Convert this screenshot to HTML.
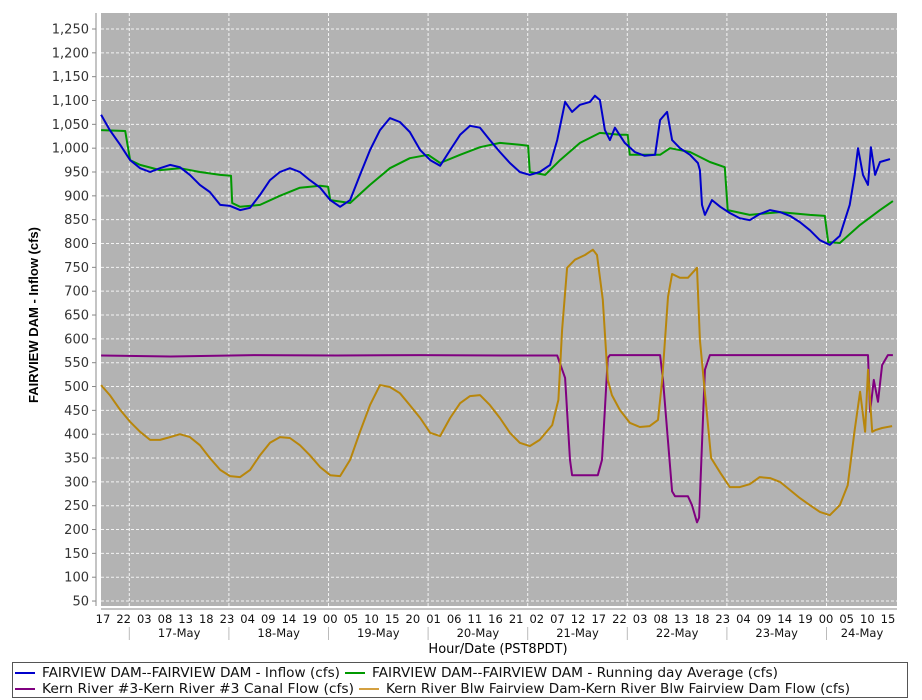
<!DOCTYPE html>
<html><head><meta charset="utf-8"><style>
html,body{margin:0;padding:0;background:#fff;}
svg{display:block;font-family:"DejaVu Sans","Liberation Sans",sans-serif;}
</style></head><body>
<svg id="chart" width="922" height="700" viewBox="0 0 922 700"></svg>
<script>
// ---- data (hours since 17-May 00:00, values cfs) ----
const yTicks = [50,100,150,200,250,300,350,400,450,500,550,600,650,700,750,800,850,900,950,1000,1050,1100,1150,1200,1250];
const hourLabels = ["17","22","03","08","13","18","23","04","09","14","19","00","05","10","15","20","01","06","11","16","21","02","07","12","17","22","03","08","13","18","23","04","09","14","19","00","05","10","15"];
const dayLabels = ["17-May","18-May","19-May","20-May","21-May","22-May","23-May","24-May"];

const inflowT = [-6.8,-4.7,-2.2,0.2,2.6,5.0,7.4,9.8,12.2,14.6,17.0,19.4,21.9,24.3,26.7,29.1,31.5,33.9,36.3,38.7,41.1,43.5,46.0,48.4,50.8,53.2,55.6,58.0,60.4,62.8,65.2,67.6,70.1,72.5,74.9,77.3,79.7,82.1,84.5,86.9,89.3,91.7,94.1,96.5,98.9,101.4,103.1,105.0,106.7,108.6,111.0,112.2,113.4,114.6,115.8,117.0,119.4,121.8,124.2,126.7,127.9,129.6,130.8,132.7,135.1,137.0,137.5,138.0,138.7,140.4,142.4,144.7,147.1,149.5,151.9,154.4,156.8,159.2,161.6,164.0,166.4,168.8,171.2,173.6,174.8,175.6,176.8,178.0,178.7,179.7,180.9,183.3];
const inflowV = [1070,1038,1007,975,958,950,958,965,960,944,923,908,881,879,870,875,902,933,950,958,950,933,917,891,877,891,944,996,1038,1063,1055,1034,996,975,963,996,1028,1047,1043,1017,992,969,950,944,950,965,1017,1097,1076,1091,1097,1110,1101,1038,1017,1043,1011,992,984,986,1059,1076,1017,1000,986,969,954,881,860,891,877,864,853,849,862,870,866,858,845,828,807,797,816,881,944,1000,944,923,1002,944,971,977];

const avgT = [-6.8,-1.0,0.2,2.6,7.4,12.2,17.0,21.9,24.5,24.8,26.7,31.5,36.3,41.1,46.0,47.9,48.4,53.2,58.0,62.8,67.6,72.0,74.9,79.7,84.5,89.3,94.1,96.1,96.5,100.2,103.8,108.6,113.4,118.2,120.1,120.6,127.9,130.3,135.1,139.9,143.5,144.2,149.5,156.8,164.0,167.6,168.4,171.2,176.1,180.9,184.0];
const avgV = [1038,1036,975,965,954,958,950,944,942,885,877,881,900,917,921,919,891,885,923,958,979,986,969,986,1002,1011,1007,1005,950,944,975,1011,1032,1028,1028,986,986,1000,992,971,960,870,860,866,860,858,803,801,839,870,889];

const canalT = [-6.8,10,30,50,70,90,103.1,105.0,106.2,106.7,112.9,113.9,115.3,115.8,127.9,128.6,130.8,131.5,134.6,135.6,136.8,137.3,138.7,139.9,160,178.0,178.5,179.4,180.4,181.4,182.8,184.0];
const canalV = [565,563,566,565,566,565,565,518,346,314,314,346,560,566,566,514,280,270,270,251,215,225,535,566,566,566,447,514,468,545,566,566];

const blwT = [-6.8,-4.7,-2.2,0.2,2.6,5.0,7.4,9.8,12.2,14.6,17.0,19.4,21.9,24.3,26.7,29.1,31.5,33.9,36.3,38.7,41.1,43.5,46.0,48.4,50.8,53.2,55.6,58.0,60.4,62.8,65.2,67.6,70.1,72.5,74.9,77.3,79.7,82.1,84.5,86.9,89.3,91.7,94.1,96.5,98.9,101.9,103.4,104.3,105.5,107.4,109.8,111.7,112.7,114.1,115.3,116.3,118.2,120.6,123.0,125.4,127.4,128.4,129.8,130.8,132.7,134.6,136.8,137.5,140.2,142.4,144.7,147.1,149.5,151.9,154.4,156.8,159.2,161.6,164.0,166.4,168.8,171.2,173.1,174.8,176.1,177.3,178.0,179.0,179.9,181.4,183.8];
const blwV = [503,482,451,426,405,388,388,394,400,394,377,350,325,312,310,325,356,382,394,392,377,356,331,314,312,346,405,461,503,499,486,461,434,403,396,434,465,480,482,461,434,403,382,375,388,419,472,619,749,766,776,787,776,682,514,482,451,424,415,417,430,514,688,736,728,728,749,598,350,319,289,289,295,310,308,300,283,266,251,237,230,251,293,409,489,405,535,405,409,413,417];

// ---- layout ----
const svg = document.getElementById('chart');
const NS = 'http://www.w3.org/2000/svg';
const PL = 101, PR = 897, PT = 13, PB = 606;
const X0 = 129.3, XK = 4.15;
const xs = h => X0 + h * XK;
const ys = v => 29 + (1250 - v) * 0.4767;

function mk(tag, attrs, parent) {
  const e = document.createElementNS(NS, tag);
  for (const k in attrs) e.setAttribute(k, attrs[k]);
  (parent || svg).appendChild(e);
  return e;
}

const bg = mk('rect', {x: PL, y: PT, width: PR - PL, height: PB - PT, fill: '#b3b3b3'});



const grid = mk('g', {stroke: '#ffffff', 'stroke-width': 1, 'stroke-dasharray': '3,2', opacity: 0.85});


yTicks.forEach(v => mk('line', {x1: PL, x2: PR, y1: ys(v), y2: ys(v)}, grid));
for (let d = 0; d <= 7; d++) mk('line', {x1: xs(d * 24), x2: xs(d * 24), y1: PT, y2: PB}, grid);

// y axis
const yAxis = mk('g', {});


mk('line', {x1: 96, x2: 96, y1: PT, y2: PB, stroke: '#888', 'stroke-width': 1}, yAxis);
yTicks.forEach(v => {
  mk('line', {x1: 92, x2: 96, y1: ys(v), y2: ys(v), stroke: '#888'}, yAxis);
  const t = mk('text', {x: 89, y: ys(v) + 4.5, 'text-anchor': 'end', 'font-size': 13, fill: '#333'}, yAxis);
  t.textContent = v.toLocaleString('en-US');
});
const yTitle = mk('text', {x: 0, y: 0, transform: 'translate(38,315) rotate(-90)', 'text-anchor': 'middle', 'font-size': 13, 'font-weight': 'bold', fill: '#000', 'font-family': '"Liberation Sans",sans-serif'});
yTitle.textContent = 'FAIRVIEW DAM - Inflow (cfs)';



// x axis
const xAxis = mk('g', {});


mk('line', {x1: PL, x2: PR, y1: 609, y2: 609, stroke: '#888'}, xAxis);
hourLabels.forEach((l, i) => {
  const x = 103 + i * (888 - 103) / (hourLabels.length - 1);
  const t = mk('text', {x: x, y: 623, 'text-anchor': 'middle', 'font-size': 11.5, fill: '#111'}, xAxis);
  t.textContent = l;
});
for (let d = 0; d <= 7; d++) mk('line', {x1: xs(d * 24), x2: xs(d * 24), y1: 627, y2: 640, stroke: '#bbb'}, xAxis);
dayLabels.forEach((l, i) => {
  let x = xs(i * 24 + 12);
  if (i === 7) x = 862;
  const t = mk('text', {x: x, y: 637, 'text-anchor': 'middle', 'font-size': 11.5, fill: '#111'}, xAxis);
  t.textContent = l;
});
const xTitle = mk('text', {x: 498, y: 653, 'text-anchor': 'middle', 'font-size': 13, fill: '#000'});
xTitle.textContent = 'Hour/Date (PST8PDT)';



// series
function series(T, V, color, name) {
  const d = T.map((h, i) => (i ? 'L' : 'M') + xs(h).toFixed(1) + ',' + ys(V[i]).toFixed(1)).join('');
  const p = mk('path', {d: d, fill: 'none', stroke: color, 'stroke-width': 2, 'stroke-linejoin': 'round'});
  
  
}
series(canalT, canalV, '#800080', 'canal-flow-line');
series(blwT, blwV, '#b8860b', 'blw-dam-flow-line');
series(avgT, avgV, '#009900', 'running-average-line');
series(inflowT, inflowV, '#0000cc', 'inflow-line');

// legend (entries flow inline per row)
const lg = mk('g', {});


mk('rect', {x: 12.5, y: 662.5, width: 895, height: 35, fill: '#fff', stroke: '#555'}, lg);
const rows = [
  [677, [['#0000cc', 'FAIRVIEW DAM--FAIRVIEW DAM - Inflow  (cfs)', 298], ['#009900', 'FAIRVIEW DAM--FAIRVIEW DAM - Running day Average  (cfs)', 406]]],
  [693, [['#800080', 'Kern River #3-Kern River #3 Canal Flow  (cfs)', 312], ['#d4a040', 'Kern River Blw Fairview Dam-Kern River Blw Fairview Dam Flow  (cfs)', 464]]]
];
rows.forEach(r => {
  let x = 15;
  r[1].forEach(it => {
    const g = mk('g', {}, lg);
    
    
    mk('line', {x1: x, x2: x + 20, y1: r[0] - 4, y2: r[0] - 4, stroke: it[0], 'stroke-width': 2}, g);
    const t = mk('text', {x: x + 27, y: r[0], 'font-size': 13, fill: '#111', 'xml:space': 'preserve', textLength: it[2], lengthAdjust: 'spacingAndGlyphs'}, g);
    t.textContent = it[1];
    x = x + 27 + it[2] + 5;
  });
});
</script>
</body></html>
